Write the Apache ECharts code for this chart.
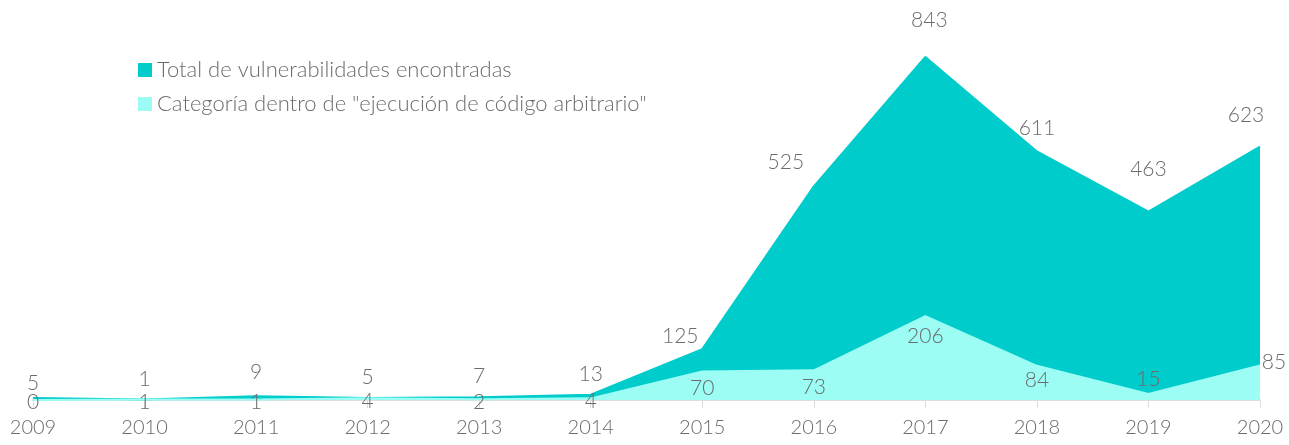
<!DOCTYPE html>
<html>
<head>
<meta charset="utf-8">
<script src="https://cdn.jsdelivr.net/npm/echarts@6/dist/echarts.min.js"></script>
<style>
  html, body { margin: 0; padding: 0; background: #fff; }
  #chart { width: 1289px; height: 445px; }
</style>
</head>
<body>
<div id="chart"></div>
<script>
const years = ['2009', '2010', '2011', '2012', '2013', '2014', '2015', '2016', '2017', '2018', '2019', '2020'];
const totalVulns = [5, 1, 9, 5, 7, 13, 125, 525, 843, 611, 463, 623];
const codeExec = [0, 1, 1, 4, 2, 4, 70, 73, 206, 84, 15, 85];

const seriesNames = ['Total de vulnerabilidades encontradas', 'Categoría dentro de "ejecución de código arbitrario"'];

const fontFamily = 'Lato';
const textColor = '#6b6b6b';

// label tweaks for a few crowded points
const totalLabelOffsets = { 0: [0, 6], 2: [0, -4], 6: [-22, 8], 7: [-28, -4], 8: [4, -16], 9: [0, -3], 10: [0, -22], 11: [-14, -11] };
const execLabelOffsets = { 0: [0, -14], 1: [0, -14], 2: [0, -14], 3: [0, -14], 4: [0, -14], 5: [0, -14], 8: [0, 4], 9: [0, -2], 10: [0, -31], 11: [14, -20] };

function withOffsets(values, offsets) {
    return values.map((v, i) => offsets[i] ? { value: v, label: { offset: offsets[i] } } : v);
}

const myChart = echarts.init(document.getElementById('chart'));

const option = {
    backgroundColor: '#ffffff',
    animation: false,
    textStyle: { fontFamily: fontFamily, fontWeight: 300 },
    legend: {
        data: seriesNames,
        orient: 'vertical',
        left: 133,
        top: 54,
        itemWidth: 14,
        itemHeight: 14,
        itemGap: 12,
        icon: 'rect',
        textStyle: {
            fontSize: 22,
            color: textColor,
            fontFamily: fontFamily,
            fontWeight: 300
        }
    },
    grid: {
        left: 33,
        right: 29,
        top: 57,
        bottom: 45
    },
    xAxis: {
        type: 'category',
        data: years,
        boundaryGap: false,
        axisLine: { lineStyle: { color: '#dddddd', width: 2 } },
        axisTick: { show: true, length: 8, lineStyle: { color: '#dddddd', width: 1 } },
        axisLabel: {
            color: textColor,
            fontSize: 20,
            margin: 18,
            fontFamily: fontFamily,
            fontWeight: 300
        },
        splitLine: { show: false }
    },
    yAxis: {
        type: 'value',
        min: 0,
        max: 'dataMax',
        show: false,
        splitLine: { show: false }
    },
    series: [
        {
            name: seriesNames[0],
            type: 'line',
            data: withOffsets(totalVulns, totalLabelOffsets),
            color: '#00cccb',
            symbol: 'circle',
            symbolSize: 0.1,
            lineStyle: { width: 2, color: '#00cccb' },
            areaStyle: { color: '#00cccb', opacity: 1 },
            label: {
                show: true,
                position: 'top',
                distance: 10,
                fontSize: 21,
                color: textColor,
                fontFamily: fontFamily,
                fontWeight: 300
            },
            z: 2
        },
        {
            name: seriesNames[1],
            type: 'line',
            data: withOffsets(codeExec, execLabelOffsets),
            color: '#9bfdf3',
            symbol: 'circle',
            symbolSize: 0.1,
            lineStyle: { width: 2, color: '#9bfdf3' },
            areaStyle: { color: '#9bfdf3', opacity: 1 },
            label: {
                show: true,
                position: 'bottom',
                distance: 6,
                fontSize: 21,
                color: textColor,
                fontFamily: fontFamily,
                fontWeight: 300
            },
            z: 3
        }
    ]
};

myChart.setOption(option);
</script>
</body>
</html>
